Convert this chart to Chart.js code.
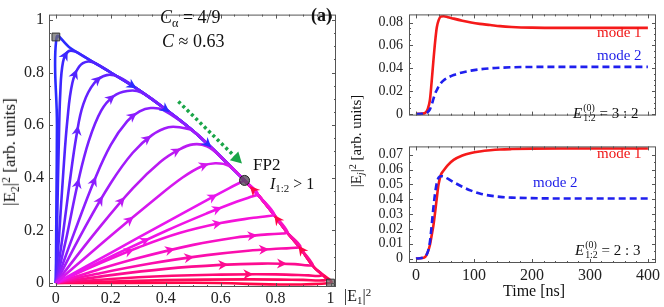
<!DOCTYPE html>
<html>
<head>
<meta charset="utf-8">
<script src="https://cdn.jsdelivr.net/npm/chart.js@4.4.1/dist/chart.umd.min.js"></script>
<style>
  body { margin: 0; background: #fff; }
  #wrap { position: relative; width: 664px; height: 307px; overflow: hidden; font-family: "Liberation Serif", "DejaVu Serif", serif; color: #111; }
  canvas { position: absolute; }
  .lbl { position: absolute; white-space: nowrap; line-height: 1; }
  .rot { transform: translate(-50%, -50%) rotate(-90deg); }
  .sb { font-size: 0.68em; vertical-align: -0.3em; }
  .sp { font-size: 0.68em; vertical-align: 0.45em; }
  .ss { display: inline-block; vertical-align: -0.32em; font-size: 0.66em; line-height: 1.0; margin-left: 1px; }
  .ss span { display: block; }
</style>
</head>
<body>
<div id="wrap">
  <canvas id="phase" width="345" height="307" style="left:0;top:0"></canvas>
  <canvas id="run32" width="299" height="130" style="left:365px;top:0"></canvas>
  <canvas id="run23" width="299" height="175" style="left:365px;top:132px"></canvas>

  <div class="lbl rot" style="left:11px;top:152px;font-size:17px">|E<span class="sb">2</span>|<span class="sp">2</span> [arb. units]</div>
  <div class="lbl" style="left:344px;top:287px;font-size:16px">|E<span class="sb">1</span>|<span class="sp">2</span></div>
  <div class="lbl" style="left:160px;top:8px;font-size:18px"><i>C</i><span class="sb">α</span> = 4/9</div>
  <div class="lbl" style="left:162px;top:32px;font-size:18px"><i>C</i> ≈ 0.63</div>
  <div class="lbl" style="left:311px;top:6px;font-size:18px;font-weight:bold">(a)</div>
  <div class="lbl" style="left:253px;top:156px;font-size:17px">FP2</div>
  <div class="lbl" style="left:270px;top:176px;font-size:16px"><i>I</i><span class="sb">1:2</span> &gt; 1</div>

  <div class="lbl rot" style="left:357px;top:141px;font-size:15px">|E<span class="sb"><i>j</i></span>|<span class="sp">2</span> [arb. units]</div>
  <div class="lbl" style="left:597px;top:25px;font-size:15px;color:#f01414">mode 1</div>
  <div class="lbl" style="left:597px;top:48px;font-size:15px;color:#1c1ce8">mode 2</div>
  <div class="lbl" style="left:573px;top:103px;font-size:15px"><i>E</i><span class="ss"><span>(0)</span><span>1:2</span></span> = 3 : 2</div>
  <div class="lbl" style="left:597px;top:146px;font-size:15px;color:#f01414">mode 1</div>
  <div class="lbl" style="left:533px;top:175px;font-size:15px;color:#1c1ce8">mode 2</div>
  <div class="lbl" style="left:575px;top:240px;font-size:15px"><i>E</i><span class="ss"><span>(0)</span><span>1:2</span></span> = 2 : 3</div>
  <div class="lbl" style="left:503px;top:283px;font-size:16px">Time [ns]</div>
</div>

<script>
// ---- phase portrait (|E1|^2, |E2|^2) ----
const phaseTicks = [0, 0.2, 0.4, 0.6, 0.8, 1];

// attracting boundary, from the two corner fixed points to FP2
const upperBoundary = [[0, 0.935], [0.05, 0.895], [0.1, 0.862], [0.15, 0.831], [0.2, 0.8], [0.3, 0.735], [0.4, 0.66], [0.5, 0.578], [0.6, 0.48], [0.687, 0.39]];
const lowerBoundary = [[1, 0], [0.94, 0.06], [0.89, 0.132], [0.84, 0.195], [0.79, 0.265], [0.74, 0.33], [0.687, 0.39]];

// orbits that reach the boundary above FP2 (blue -> violet)
const upperOrbits = [
  [[0, 0], [0.002, 0.3], [0.004, 0.6], [0.003, 0.935]],
  [[0, 0], [0.005, 0.25], [0.01, 0.5], [0.016, 0.72], [0.026, 0.84], [0.045, 0.88], [0.07, 0.88]],
  [[0, 0], [0.013, 0.2], [0.027, 0.42], [0.042, 0.62], [0.06, 0.76], [0.085, 0.823], [0.117, 0.842], [0.15, 0.832]],
  [[0, 0], [0.025, 0.18], [0.05, 0.38], [0.075, 0.56], [0.1, 0.68], [0.14, 0.76], [0.185, 0.79], [0.23, 0.782]],
  [[0, 0], [0.04, 0.18], [0.08, 0.38], [0.12, 0.54], [0.165, 0.655], [0.21, 0.71], [0.26, 0.73], [0.31, 0.725]],
  [[0, 0], [0.07, 0.2], [0.14, 0.39], [0.2, 0.525], [0.26, 0.615], [0.305, 0.652], [0.345, 0.665], [0.39, 0.658]],
  [[0, 0], [0.1, 0.2], [0.2, 0.38], [0.28, 0.495], [0.35, 0.562], [0.41, 0.592], [0.46, 0.59]],
  [[0, 0], [0.15, 0.2], [0.28, 0.36], [0.38, 0.46], [0.45, 0.508], [0.5, 0.527], [0.55, 0.52]],
  [[0, 0], [0.2, 0.18], [0.35, 0.31], [0.46, 0.4], [0.53, 0.443], [0.58, 0.455], [0.63, 0.445]]
];
// orbits that reach the boundary below FP2 (magenta -> red)
const lowerOrbits = [
  [[0, 0], [0.2, 0.115], [0.4, 0.23], [0.55, 0.315], [0.63, 0.36], [0.687, 0.39]],
  [[0, 0], [0.2, 0.1], [0.4, 0.198], [0.55, 0.265], [0.66, 0.31], [0.71, 0.328], [0.735, 0.34]],
  [[0, 0], [0.15, 0.07], [0.3, 0.135], [0.45, 0.19], [0.6, 0.228], [0.72, 0.248], [0.775, 0.255], [0.795, 0.262]],
  [[0, 0], [0.15, 0.05], [0.3, 0.095], [0.5, 0.145], [0.65, 0.172], [0.77, 0.185], [0.825, 0.188], [0.843, 0.195]],
  [[0, 0], [0.15, 0.035], [0.35, 0.075], [0.55, 0.106], [0.7, 0.123], [0.82, 0.131], [0.872, 0.134], [0.89, 0.14]],
  [[0, 0], [0.2, 0.03], [0.4, 0.054], [0.6, 0.069], [0.75, 0.074], [0.87, 0.072], [0.918, 0.067], [0.935, 0.07]],
  [[0, 0], [0.3, 0.022], [0.6, 0.032], [0.8, 0.033], [0.92, 0.029], [0.958, 0.027], [0.97, 0.032]],
  [[0, 0], [0.4, 0.011], [0.7, 0.014], [0.9, 0.012], [0.97, 0.01], [0.985, 0.015]],
  [[0, 0], [0.5, 0.001], [1, 0]]
];
const cornerPoints = [[0, 0.935], [1, 0]];
const fp2Point = [[0.687, 0.39]];
const greenArrow = [[0.446, 0.69], [0.662, 0.47]];

// ---- time traces ----
const timeTicks = [0, 100, 200, 300, 400];
const times = [0, 10, 16, 20, 24, 27, 30, 33, 36, 39, 43, 48, 55, 65, 80, 95, 110, 128, 145, 165, 200, 250, 300, 350, 400];
const mode1Run32 = [0, 0.0003, 0.001, 0.004, 0.012, 0.028, 0.046, 0.063, 0.076, 0.082, 0.0853, 0.0856, 0.0848, 0.0835, 0.0817, 0.0801, 0.0789, 0.0779, 0.0769, 0.0762, 0.0756, 0.0754, 0.0754, 0.0754, 0.0754];
const mode2Run32 = [0, 0.0002, 0.0006, 0.0015, 0.004, 0.008, 0.013, 0.018, 0.021, 0.024, 0.027, 0.0295, 0.0318, 0.0341, 0.0364, 0.038, 0.0391, 0.04, 0.0405, 0.0409, 0.0412, 0.0413, 0.0413, 0.0413, 0.0413];
const mode1Run23 = [0, 0.0003, 0.0012, 0.004, 0.009, 0.0154, 0.022, 0.031, 0.041, 0.05, 0.0565, 0.0595, 0.063, 0.0665, 0.0695, 0.0712, 0.0722, 0.073, 0.0735, 0.0738, 0.0741, 0.0742, 0.0742, 0.0742, 0.0742];
const mode2Run23 = [0, 0.0004, 0.0015, 0.004, 0.011, 0.022, 0.034, 0.044, 0.051, 0.0545, 0.0555, 0.0553, 0.0538, 0.0515, 0.0484, 0.0458, 0.0438, 0.0424, 0.0416, 0.0411, 0.0407, 0.0405, 0.0405, 0.0405, 0.0405];
const ticksRun32 = [0, 0.02, 0.04, 0.06, 0.08];
const ticksRun23 = [0, 0.01, 0.02, 0.03, 0.04, 0.05, 0.06, 0.07];

// colours and arrow places (fractions along own part / along boundary part)
const upperColors = ['#2b2bff', '#3d26ff', '#5024ff', '#6422ff', '#7820ff', '#8c1eff', '#a21cfa', '#bb1af2', '#d418ee'];
const lowerColors = ['#e816ee', '#f014e6', '#f512d8', '#f810c4', '#fb0eac', '#fd0c90', '#ff0a74', '#ff085c', '#ff0648'];
const upperArrows = [[[], [0.38, 0.55, 0.78]], [[0.95], []], [[0.88], []], [[0.66, 0.9], []], [[0.45, 0.86], []], [[0.5, 0.85], []], [[0.45, 0.82], []], [[0.5, 0.85], []], [[0.45, 0.88], []]];
const lowerArrows = [[[0.83], []], [[0.45, 0.8], []], [[0.35, 0.75], []], [[0.5, 0.85], []], [[0.55, 0.85], []], [[0.65, 0.88], []], [[0.72], []], [[], []], [[], [0.33, 0.62, 0.9]]];

Chart.defaults.font.family = '"Liberation Serif", "DejaVu Serif", serif';
Chart.defaults.color = '#222';

const xy = pts => pts.map(p => ({ x: p[0], y: p[1] }));

function bezierAt(a, b, t) {
  const c1x = a.cp2x ?? a.x, c1y = a.cp2y ?? a.y, c2x = b.cp1x ?? b.x, c2y = b.cp1y ?? b.y;
  const u = 1 - t;
  const x = u*u*u*a.x + 3*u*u*t*c1x + 3*u*t*t*c2x + t*t*t*b.x;
  const y = u*u*u*a.y + 3*u*u*t*c1y + 3*u*t*t*c2y + t*t*t*b.y;
  let dx = 3*u*u*(c1x - a.x) + 6*u*t*(c2x - c1x) + 3*t*t*(b.x - c2x);
  let dy = 3*u*u*(c1y - a.y) + 6*u*t*(c2y - c1y) + 3*t*t*(b.y - c2y);
  if (Math.abs(dx) + Math.abs(dy) < 1e-6) { dx = b.x - a.x; dy = b.y - a.y; }
  return [x, y, Math.atan2(dy, dx)];
}

function drawHead(ctx, x, y, ang, color) {
  ctx.save();
  ctx.translate(x, y);
  ctx.rotate(ang);
  ctx.beginPath();
  ctx.moveTo(5.5, 0);
  ctx.lineTo(-4.5, -5);
  ctx.lineTo(-1.5, 0);
  ctx.lineTo(-4.5, 5);
  ctx.closePath();
  ctx.fillStyle = color;
  ctx.fill();
  ctx.restore();
}

const flowArrows = {
  id: 'flowArrows',
  afterDatasetsDraw(chart) {
    const ctx = chart.ctx;
    chart.data.datasets.forEach((ds, di) => {
      const pts = chart.getDatasetMeta(di).data;
      if (ds.marks) {
        ds.marks.forEach(([from, to, f]) => {
          const lens = [];
          let total = 0;
          for (let i = from; i < to; i++) {
            const d = Math.hypot(pts[i + 1].x - pts[i].x, pts[i + 1].y - pts[i].y);
            lens.push(d);
            total += d;
          }
          let goal = f * total;
          for (let k = 0; k < lens.length; k++) {
            if (goal <= lens[k] || k === lens.length - 1) {
              const t = lens[k] ? Math.min(goal / lens[k], 1) : 0;
              const [x, y, ang] = bezierAt(pts[from + k], pts[from + k + 1], t);
              drawHead(ctx, x, y, ang, ds.borderColor);
              break;
            }
            goal -= lens[k];
          }
        });
      }
      if (ds.headAtEnd) {
        const a = pts[pts.length - 2], b = pts[pts.length - 1];
        const ang = Math.atan2(b.y - a.y, b.x - a.x);
        ctx.save();
        ctx.translate(b.x, b.y);
        ctx.rotate(ang);
        ctx.beginPath();
        ctx.moveTo(6, 0);
        ctx.lineTo(-5, -6);
        ctx.lineTo(-5, 6);
        ctx.closePath();
        ctx.fillStyle = ds.borderColor;
        ctx.fill();
        ctx.restore();
      }
    });
  }
};

// frame on all four sides with inward ticks
const frame = {
  id: 'frame',
  afterDraw(chart, args, opts) {
    const { ctx, chartArea: a, scales } = chart;
    ctx.save();
    ctx.strokeStyle = '#555';
    ctx.lineWidth = 1;
    ctx.strokeRect(a.left + 0.5, a.top + 0.5, a.right - a.left - 1, a.bottom - a.top - 1);
    const marks = (majors, n) => {
      const out = [];
      for (let i = 0; i < majors.length; i++) {
        out.push([majors[i], 4]);
        if (i < majors.length - 1) {
          for (let j = 1; j < n; j++) out.push([majors[i] + (majors[i + 1] - majors[i]) * j / n, 2]);
        }
      }
      return out;
    };
    ctx.beginPath();
    marks(opts.xMajors, opts.xMinor).forEach(([v, l]) => {
      const px = Math.round(scales.x.getPixelForValue(v)) + 0.5;
      ctx.moveTo(px, a.bottom); ctx.lineTo(px, a.bottom - l);
      ctx.moveTo(px, a.top); ctx.lineTo(px, a.top + l);
    });
    marks(opts.yMajors, opts.yMinor).forEach(([v, l]) => {
      const py = Math.round(scales.y.getPixelForValue(v)) + 0.5;
      ctx.moveTo(a.left, py); ctx.lineTo(a.left + l, py);
      ctx.moveTo(a.right, py); ctx.lineTo(a.right - l, py);
    });
    ctx.stroke();
    ctx.restore();
  }
};

// build orbit datasets; each orbit continues along the boundary to FP2
const orbitSets = [];
lowerOrbits.slice().reverse().forEach((pts, r) => {
  const i = lowerOrbits.length - 1 - r;
  const last = pts[pts.length - 1][0];
  const tail = lowerBoundary.filter(p => p[0] < last - 0.02);
  orbitSets.push({ pts, tail, color: lowerColors[i], arrows: lowerArrows[i] });
});
upperOrbits.forEach((pts, i) => {
  const last = pts[pts.length - 1][0];
  const tail = upperBoundary.filter(p => p[0] > last + 0.02);
  orbitSets.push({ pts, tail, color: upperColors[i], arrows: upperArrows[i] });
});

const phaseData = orbitSets.map((o, k) => {
  const full = o.pts.concat(o.tail);
  const own = o.pts.length - 1;
  const marks = o.arrows[0].map(f => [0, own, f]).concat(o.arrows[1].map(f => [own, full.length - 1, f]));
  return {
    data: xy(full),
    showLine: true,
    borderColor: o.color,
    borderWidth: 2.6,
    pointRadius: 0,
    tension: 0.4,
    marks,
    order: orbitSets.length + 5 - k
  };
});
phaseData.push({
  data: xy(greenArrow), showLine: true, borderColor: '#1aa548', borderWidth: 3.5,
  borderDash: [3, 3], pointRadius: 0, headAtEnd: true, order: 2
});
phaseData.push({
  data: xy(cornerPoints), showLine: false, pointStyle: 'rect', pointRadius: 5.5,
  backgroundColor: 'rgba(110,110,110,0.75)', borderColor: '#333', borderWidth: 1, order: 1
});
phaseData.push({
  data: xy(fp2Point), showLine: false, pointStyle: 'circle', pointRadius: 5,
  backgroundColor: 'rgba(85,75,90,0.8)', borderColor: '#222', borderWidth: 1, order: 0
});

const tickFont = size => ({ size, family: '"Liberation Serif", "DejaVu Serif", serif' });

new Chart(document.getElementById('phase'), {
  type: 'scatter',
  data: { datasets: phaseData },
  options: {
    responsive: false,
    animation: false,
    events: [],
    layout: { padding: { top: 2, right: 9, left: 0, bottom: 0 } },
    plugins: { legend: { display: false }, tooltip: { enabled: false }, frame: { xMajors: phaseTicks, yMajors: phaseTicks, xMinor: 4, yMinor: 4 } },
    scales: {
      x: {
        type: 'linear', min: -0.025, max: 1.02,
        grid: { display: false, drawTicks: false }, border: { display: false },
        afterBuildTicks: s => { s.ticks = phaseTicks.map(v => ({ value: v })); },
        afterFit: s => { s.height = 20; },
        ticks: { font: tickFont(16), color: '#222', padding: 2, maxRotation: 0, callback: v => String(v) }
      },
      y: {
        type: 'linear', min: -0.015, max: 1.02,
        grid: { display: false, drawTicks: false }, border: { display: false },
        afterBuildTicks: s => { s.ticks = phaseTicks.map(v => ({ value: v })); },
        afterFit: s => { s.width = 49; },
        ticks: { font: tickFont(16), color: '#222', padding: 5, callback: v => String(v) }
      }
    }
  },
  plugins: [flowArrows, frame]
});

function runChart(id, m1, m2, yTicks, yMin, yMax, withTime) {
  new Chart(document.getElementById(id), {
    type: 'scatter',
    data: {
      datasets: [
        { data: xy(times.map((t, i) => [t, m1[i]])), showLine: true, borderColor: '#f51a1a', borderWidth: 2.6, pointRadius: 0, cubicInterpolationMode: 'monotone', order: 1 },
        { data: xy(times.map((t, i) => [t, m2[i]])), showLine: true, borderColor: '#1f1fee', borderWidth: 2.6, borderDash: [7, 4], pointRadius: 0, cubicInterpolationMode: 'monotone', order: 0 }
      ]
    },
    options: {
      responsive: false,
      animation: false,
      events: [],
      layout: { padding: { top: withTime ? 5 : 3, right: 8, left: 0, bottom: 0 } },
      plugins: { legend: { display: false }, tooltip: { enabled: false }, frame: { xMajors: timeTicks, yMajors: yTicks, xMinor: 5, yMinor: withTime ? 2 : 4 } },
      scales: {
        x: {
          type: 'linear', min: -12, max: 414,
          grid: { display: false, drawTicks: false }, border: { display: false },
          afterBuildTicks: s => { s.ticks = timeTicks.map(v => ({ value: v })); },
          afterFit: s => { s.height = withTime ? 44 : 4; },
          ticks: { display: withTime, font: tickFont(16), color: '#222', padding: 3, maxRotation: 0, callback: v => String(v) }
        },
        y: {
          type: 'linear', min: yMin, max: yMax,
          grid: { display: false, drawTicks: false }, border: { display: false },
          afterBuildTicks: s => { s.ticks = yTicks.map(v => ({ value: v })); },
          afterFit: s => { s.width = 44; },
          ticks: { font: tickFont(14), color: '#222', padding: 6, autoSkip: false, callback: v => String(v) }
        }
      }
    },
    plugins: [frame]
  });
}

runChart('run32', mode1Run32, mode2Run32, ticksRun32, -0.0014, 0.0872, false);
runChart('run23', mode1Run23, mode2Run23, ticksRun23, -0.003, 0.0756, true);
</script>
</body>
</html>
